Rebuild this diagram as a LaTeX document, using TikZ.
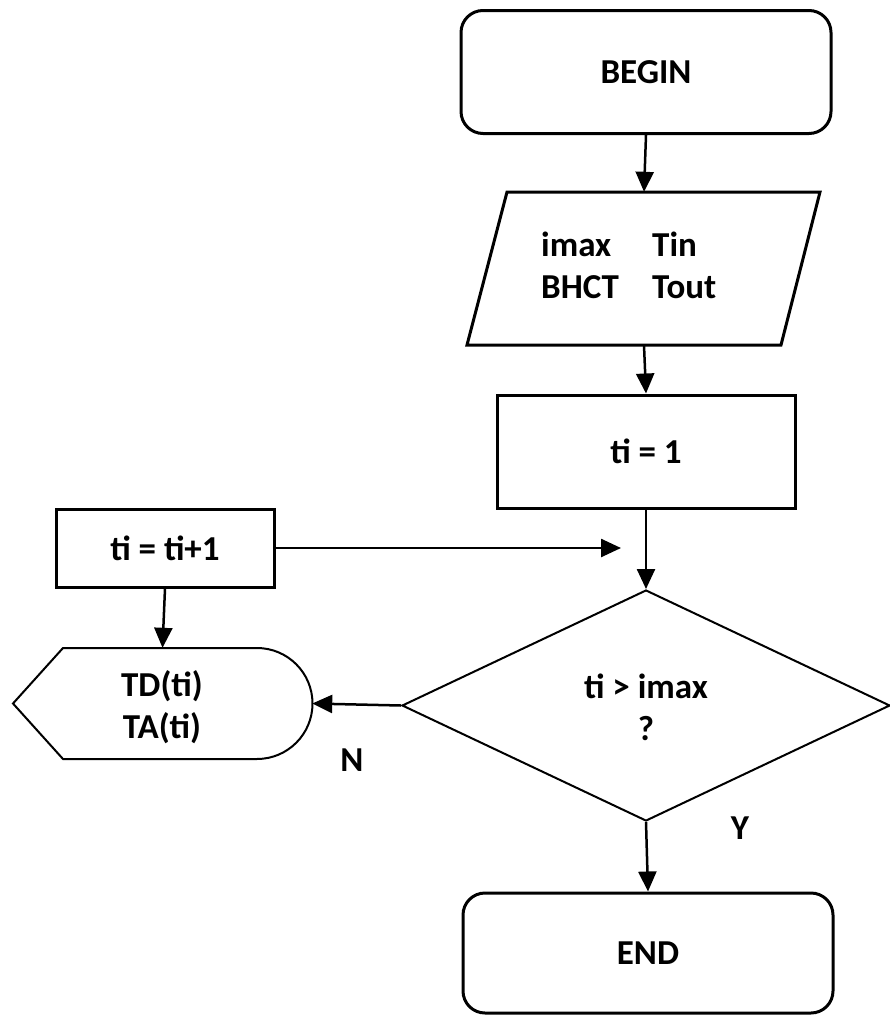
\documentclass[tikz,border=0pt]{standalone}
\usepackage{fontspec}
\setmainfont{Carlito}
\usetikzlibrary{shapes.geometric,arrows.meta}
\begin{document}
\begin{tikzpicture}[x=1pt,y=-1pt,
  every node/.style={font=\fontsize{35}{42}\selectfont\bfseries},
  box/.style={draw,line width=3pt,inner sep=0pt},
  rbox/.style={box,rounded corners=22pt},
  shapeonly/.style={inner sep=0pt},
  conn/.style={line width=2.5pt,-{Triangle[length=20pt,width=18pt]}},
  lbl/.style={inner sep=0pt}]
\useasboundingbox (0,0) rectangle (890,1017);
% BEGIN
\node[rbox,minimum width=370pt,minimum height=123pt] (begin) at (646,72) {BEGIN};
% input parallelogram
\node[shapeonly,minimum width=313pt,minimum height=153pt] (par) at (644,268.5) {};
\draw[line width=3pt,line join=miter] (507,192) -- (820,192) -- (781,345) -- (467,345) -- cycle;
\node[lbl,anchor=west] (partext) at (541,269)
  {\begin{tabular}{@{}p{111pt}@{}l@{}}imax & Tin\\ BHCT & Tout\end{tabular}};
% ti = 1
\node[box,minimum width=298pt,minimum height=113pt] (ti1) at (646,451.5) {ti = 1};
% ti = ti+1
\node[box,minimum width=218pt,minimum height=78pt] (tii) at (165,548) {ti = ti+1};
\coordinate (join) at (621,548);
% decision
\node[diamond,draw,line width=2pt,inner sep=0pt,minimum width=488pt,minimum height=231pt] (dia) at (646,705.5) {};
\node[lbl,align=center] (diatext) at (646,707) {ti > imax\\?};
% display
\node[shapeonly,minimum width=299pt,minimum height=111pt] (disp) at (162.5,703.5) {};
\draw[line width=2pt] (13,703.5) -- (63,648) -- (257,648) arc[start angle=90,end angle=-90,radius=55.5pt] -- (63,759) -- cycle;
\node[lbl,align=center] (disptext) at (162,707) {TD(ti)\\TA(ti)};
% END
\node[rbox,minimum width=370pt,minimum height=120pt] (end) at (648,953) {END};
% labels
\node[lbl] (nlab) at (352,760) {N};
\node[lbl] (ylab) at (740,828) {Y};
% connectors
\draw[conn] (begin.south) -- (par.north);
\draw[conn] (par.south) -- (ti1.north);
\draw[conn] (ti1.south) -- (dia.north);
\draw[conn] (tii.east) -- (join);
\draw[conn] (tii.south) -- (disp.north);
\draw[conn] (dia.west) -- (disp.east);
\draw[conn] (dia.south) -- (end.north);
\end{tikzpicture}
\end{document}
